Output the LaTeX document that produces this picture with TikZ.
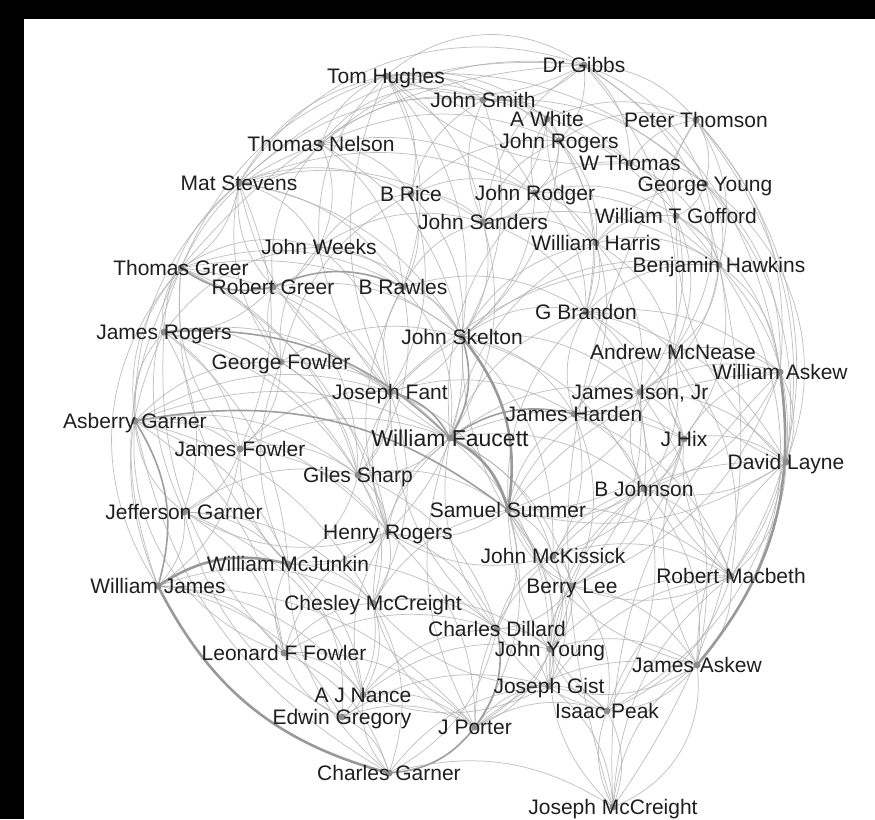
\documentclass[tikz,border=0pt]{standalone}
\usepackage{fontspec}
\setmainfont{Liberation Sans}
\usetikzlibrary{backgrounds}
\tikzset{
    x=1pt, y=-1pt,
    person/.style={inner sep=0pt, text height=15pt, text depth=0pt, text=black!88,
        font=\fontsize{21}{24}\selectfont},
    bigperson/.style={person, text height=16pt, font=\fontsize{23}{26}\selectfont},
    edge/.style={draw=black!32, line width=0.75pt, opacity=0.75},
    heavy/.style={draw=black!38, line width=1.6pt},
    heavier/.style={draw=black!40, line width=2.6pt},
    dot/.style={fill=black!45}
}
\begin{document}
\begin{tikzpicture}
    \useasboundingbox (0,0) rectangle (875,819);
    % people
    \node[person] (gibbs) at (584,65) {Dr Gibbs};
    \node[person] (hughes) at (386,76) {Tom Hughes};
    \node[person] (jsmith) at (483,100) {John Smith};
    \node[person] (awhite) at (547,119) {A White};
    \node[person] (pthomson) at (696,120) {Peter Thomson};
    \node[person] (tnelson) at (321,144) {Thomas Nelson};
    \node[person] (jrogers) at (559,141) {John Rogers};
    \node[person] (wthomas) at (630,163) {W Thomas};
    \node[person] (mstevens) at (239,183) {Mat Stevens};
    \node[person] (brice) at (411,194) {B Rice};
    \node[person] (jrodger) at (535,193) {John Rodger};
    \node[person] (gyoung) at (705,184) {George Young};
    \node[person] (jsanders) at (483,222) {John Sanders};
    \node[person] (wgofford) at (676,216) {William T Gofford};
    \node[person] (jweeks) at (319,247) {John Weeks};
    \node[person] (wharris) at (596,243) {William Harris};
    \node[person] (tgreer) at (181,268) {Thomas Greer};
    \node[person] (bhawkins) at (719,265) {Benjamin Hawkins};
    \node[person] (rgreer) at (273,287) {Robert Greer};
    \node[person] (brawles) at (403,287) {B Rawles};
    \node[person] (gbrandon) at (586,312) {G Brandon};
    \node[person] (jarogers) at (164,332) {James Rogers};
    \node[person] (skelton) at (462,337) {John Skelton};
    \node[person] (mcnease) at (673,352) {Andrew McNease};
    \node[person] (gfowler) at (281,362) {George Fowler};
    \node[person] (waskew) at (780,372) {William Askew};
    \node[person] (fant) at (390,392) {Joseph Fant};
    \node[person] (ison) at (640,392) {James Ison, Jr};
    \node[person] (agarner) at (135,421) {Asberry Garner};
    \node[person] (harden) at (574,414) {James Harden};
    \node[bigperson] (faucett) at (450,438) {William Faucett};
    \node[person] (hix) at (684,439) {J Hix};
    \node[person] (jfowler) at (240,449) {James Fowler};
    \node[person] (layne) at (786,462) {David Layne};
    \node[person] (sharp) at (358,475) {Giles Sharp};
    \node[person] (bjohnson) at (644,489) {B Johnson};
    \node[person] (jgarner) at (184,512) {Jefferson Garner};
    \node[person] (summer) at (508,510) {Samuel Summer};
    \node[person] (hrogers) at (388,532) {Henry Rogers};
    \node[person] (mckissick) at (553,556) {John McKissick};
    \node[person] (mcjunkin) at (288,564) {William McJunkin};
    \node[person] (wjames) at (158,586) {William James};
    \node[person] (blee) at (572,586) {Berry Lee};
    \node[person] (macbeth) at (731,576) {Robert Macbeth};
    \node[person] (chmccreight) at (373,603) {Chesley McCreight};
    \node[person] (dillard) at (497,629) {Charles Dillard};
    \node[person] (lfowler) at (284,653) {Leonard F Fowler};
    \node[person] (jyoung) at (550,649) {John Young};
    \node[person] (jaskew) at (697,665) {James Askew};
    \node[person] (nance) at (363,695) {A J Nance};
    \node[person] (gist) at (549,686) {Joseph Gist};
    \node[person] (gregory) at (342,717) {Edwin Gregory};
    \node[person] (peak) at (607,711) {Isaac Peak};
    \node[person] (porter) at (475,727) {J Porter};
    \node[person] (cgarner) at (389,773) {Charles Garner};
    \node[person] (jomccreight) at (613,807) {Joseph McCreight};

    \begin{pgfonlayer}{background}
        \fill[black] (0,0) rectangle (875,819);
        \fill[white] (24,19) rectangle (875,819);
        % light ties
        \foreach \a/\b in {gibbs/hughes, gibbs/jsmith, gibbs/jrogers, gibbs/pthomson, gibbs/bhawkins,
            mstevens/gibbs, tnelson/gibbs, gibbs/gyoung, gibbs/wthomas, jsanders/gibbs, tgreer/gibbs, gibbs/waskew,
            tnelson/hughes, mstevens/hughes, hughes/jsmith, jweeks/hughes, hughes/brice, hughes/jsanders,
            tgreer/hughes, hughes/jrodger, hughes/skelton, hughes/bhawkins, hughes/brawles,
            jsmith/awhite, jsmith/jrogers, jsanders/jsmith, tnelson/jsmith, jsmith/wthomas, jsmith/gyoung, mstevens/jsmith,
            awhite/jrogers, awhite/pthomson, jrodger/awhite, awhite/gbrandon,
            pthomson/gyoung, pthomson/bhawkins, wgofford/pthomson, jrogers/pthomson, pthomson/waskew, wthomas/pthomson,
            jrogers/jrodger, jsanders/jrogers, jrogers/wthomas, jrogers/wharris, tnelson/jrogers, brice/jrogers, jrogers/gbrandon,
            wthomas/gyoung, wthomas/wgofford, wthomas/bhawkins, jrodger/wthomas,
            tnelson/mstevens, tnelson/jweeks, tnelson/brice, tgreer/tnelson, tnelson/skelton,
            mstevens/tgreer, mstevens/jweeks, rgreer/mstevens, jarogers/mstevens, mstevens/brawles, mstevens/brice,
            mstevens/jsanders, fant/mstevens, gfowler/mstevens, mstevens/jrodger,
            brice/jrodger, brice/jsanders, jweeks/brice, brice/brawles, brice/skelton,
            jrodger/jsanders, jrodger/wharris, jrodger/wgofford, jrodger/bhawkins, jrodger/gbrandon,
            gyoung/wgofford, gyoung/bhawkins, gyoung/waskew, wharris/gyoung, gyoung/mcnease,
            jsanders/wharris, jsanders/skelton, brawles/jsanders, jsanders/gbrandon, jweeks/jsanders, jsanders/faucett, jsanders/bhawkins,
            wgofford/bhawkins, wharris/wgofford, wgofford/mcnease, wgofford/waskew,
            tgreer/jweeks, jweeks/rgreer, jweeks/brawles, gfowler/jweeks, jweeks/skelton, jarogers/jweeks,
            wharris/bhawkins, wharris/gbrandon, skelton/wharris, wharris/harden,
            jarogers/tgreer, tgreer/brawles, agarner/tgreer, tgreer/gfowler, tgreer/fant,
            tgreer/skelton, jfowler/tgreer, wjames/tgreer,
            gbrandon/bhawkins, bhawkins/waskew, bhawkins/mcnease, bhawkins/ison, skelton/bhawkins, bhawkins/layne,
            bhawkins/hix, fant/bhawkins, bhawkins/jomccreight,
            rgreer/jarogers, gfowler/rgreer, rgreer/skelton, rgreer/fant,
            brawles/skelton, fant/brawles, brawles/gbrandon, brawles/faucett,
            skelton/gbrandon, gbrandon/mcnease, gbrandon/ison, harden/gbrandon, faucett/gbrandon, gbrandon/bjohnson,
            summer/gbrandon, gbrandon/waskew,
            jarogers/gfowler, agarner/jarogers, jarogers/jfowler, jarogers/fant, jarogers/jgarner, jarogers/sharp, wjames/jarogers,
            skelton/fant, skelton/harden, gfowler/skelton, skelton/ison, sharp/skelton, skelton/hrogers,
            mcnease/ison, mcnease/waskew, hix/mcnease, harden/mcnease, mcnease/bjohnson,
            gfowler/fant, agarner/gfowler, gfowler/jfowler, gfowler/faucett, gfowler/sharp,
            waskew/layne, hix/waskew, waskew/bjohnson, ison/waskew, waskew/macbeth, summer/waskew, waskew/blee,
            fant/sharp, jfowler/fant, fant/harden, fant/summer, hrogers/fant, agarner/fant,
            ison/harden, ison/hix, bjohnson/ison, faucett/ison, ison/layne,
            agarner/jfowler, jgarner/agarner, agarner/mcjunkin, agarner/sharp, agarner/faucett,
            harden/hix, harden/bjohnson, summer/harden, harden/mckissick,
            faucett/sharp, hrogers/faucett, jfowler/faucett, faucett/bjohnson, faucett/mckissick, faucett/blee,
            dillard/faucett, faucett/hix, chmccreight/faucett,
            hix/layne, hix/bjohnson, macbeth/hix, hix/summer,
            jfowler/jgarner, jfowler/sharp, mcjunkin/jfowler, jfowler/hrogers, jfowler/wjames,
            layne/bjohnson, layne/macbeth, jaskew/layne,
            sharp/summer, sharp/hrogers, jgarner/sharp, sharp/mcjunkin, sharp/chmccreight,
            bjohnson/summer, mckissick/bjohnson, bjohnson/blee, bjohnson/macbeth, bjohnson/jaskew, jyoung/bjohnson,
            jgarner/wjames, jgarner/mcjunkin, hrogers/jgarner, jgarner/lfowler, jgarner/chmccreight,
            summer/hrogers, summer/mckissick, blee/summer, summer/dillard, summer/jyoung, summer/macbeth,
            jaskew/summer, summer/porter, summer/gist,
            hrogers/mcjunkin, hrogers/chmccreight, mckissick/hrogers, hrogers/dillard, lfowler/hrogers,
            mckissick/blee, dillard/mckissick, mckissick/jyoung, mckissick/macbeth,
            mcjunkin/chmccreight, lfowler/mcjunkin, mcjunkin/nance, mcjunkin/dillard,
            wjames/lfowler, wjames/chmccreight, wjames/gregory,
            blee/dillard, blee/jyoung, blee/jaskew, macbeth/blee, gist/blee, blee/peak,
            macbeth/jaskew, jyoung/macbeth, macbeth/peak, gist/macbeth,
            chmccreight/dillard, lfowler/chmccreight, chmccreight/nance, chmccreight/gregory, porter/chmccreight,
            dillard/jyoung, dillard/gist, nance/dillard, dillard/cgarner,
            lfowler/nance, gregory/lfowler, lfowler/cgarner, lfowler/porter,
            jyoung/gist, jyoung/jaskew, peak/jyoung, jyoung/porter,
            jaskew/gist, jaskew/peak, jomccreight/jaskew,
            nance/gregory, nance/porter, cgarner/nance, gist/nance,
            gist/peak, porter/gist, gist/jomccreight,
            gregory/cgarner, gregory/porter,
            peak/jomccreight, jomccreight/peak, porter/peak,
            cgarner/jomccreight}
            \draw[edge] (\a.center) to[bend left=24] (\b.center);
        % more light ties
        \foreach \a/\b in {hughes/awhite, hughes/jrogers, wthomas/hughes, hughes/gyoung, fant/hughes,
            tnelson/brawles, rgreer/tnelson, tnelson/jrodger, mstevens/skelton, agarner/mstevens, mstevens/jfowler,
            tgreer/sharp, jgarner/tgreer, tgreer/hrogers, mcjunkin/tgreer, jarogers/hrogers, jarogers/mcjunkin,
            lfowler/jarogers, agarner/hrogers, agarner/chmccreight, agarner/lfowler, cgarner/agarner,
            jgarner/nance, gregory/jgarner, wjames/nance, wjames/porter, mcjunkin/gregory, cgarner/mcjunkin,
            lfowler/dillard, chmccreight/cgarner, chmccreight/jyoung, gist/chmccreight, nance/jyoung, gregory/gist,
            cgarner/gist, porter/jaskew, jomccreight/waskew, jomccreight/macbeth, peak/macbeth, layne/peak,
            jaskew/hix, ison/jaskew, macbeth/ison, harden/macbeth, layne/summer, mckissick/layne, hix/blee,
            hix/mckissick, summer/ison, ison/blee, mcnease/summer, layne/mcnease, mcnease/macbeth, gbrandon/hix,
            gbrandon/layne, wharris/mcnease, wharris/ison, faucett/wharris, wgofford/ison, layne/wgofford,
            gyoung/layne, pthomson/layne, jomccreight/pthomson, jsmith/skelton, brice/jsmith, awhite/jsanders,
            wharris/awhite, jrogers/skelton, jrodger/skelton, faucett/jrodger, brice/fant, gfowler/brice,
            jweeks/fant, faucett/jweeks, brawles/sharp, hrogers/brawles, rgreer/sharp, gfowler/hrogers,
            mcjunkin/gfowler, fant/chmccreight, dillard/fant, sharp/dillard, porter/faucett, faucett/jyoung,
            peak/summer, chmccreight/summer, hrogers/porter, nance/hrogers, skelton/mckissick, blee/skelton,
            skelton/bjohnson, harden/blee, bjohnson/peak, gist/bjohnson, mckissick/gist, porter/mckissick,
            blee/porter, peak/dillard, jomccreight/jyoung, gibbs/mcnease}
            \draw[edge] (\a.center) to[bend left=24] (\b.center);
        % outer arcs
        \foreach \a/\b in {hughes/gibbs, mstevens/gibbs, tnelson/jsmith, pthomson/macbeth, bhawkins/jaskew,
            gyoung/layne, jaskew/jomccreight, wjames/tgreer, lfowler/agarner}
            \draw[edge] (\a.center) to[bend left=38] (\b.center);
        % strong ties
        \foreach \a/\b in {fant/faucett, skelton/faucett, faucett/harden, agarner/wjames, agarner/summer,
            jarogers/faucett, dillard/porter, rgreer/tgreer, rgreer/brawles, porter/cgarner}
            \draw[heavy] (\a.center) to[bend left=24] (\b.center);
        \foreach \a/\b in {faucett/summer, skelton/summer, cgarner/wjames, wjames/mcjunkin, waskew/jaskew}
            \draw[heavier] (\a.center) to[bend left=24] (\b.center);
        % node dots
        \foreach \n in {gibbs, hughes, jsmith, awhite, pthomson, tnelson, jrogers, wthomas, mstevens, brice,
            jrodger, gyoung, jsanders, wgofford, jweeks, wharris, tgreer, bhawkins, rgreer, brawles, gbrandon,
            jarogers, skelton, mcnease, gfowler, waskew, fant, ison, agarner, harden, faucett, hix, jfowler,
            layne, sharp, bjohnson, jgarner, summer, hrogers, mckissick, mcjunkin, wjames, blee, macbeth,
            chmccreight, dillard, lfowler, jyoung, jaskew, nance, gist, gregory, peak, porter, cgarner, jomccreight}
            \fill[dot] (\n.center) circle (3.5);
    \end{pgfonlayer}
\end{tikzpicture}
\end{document}
